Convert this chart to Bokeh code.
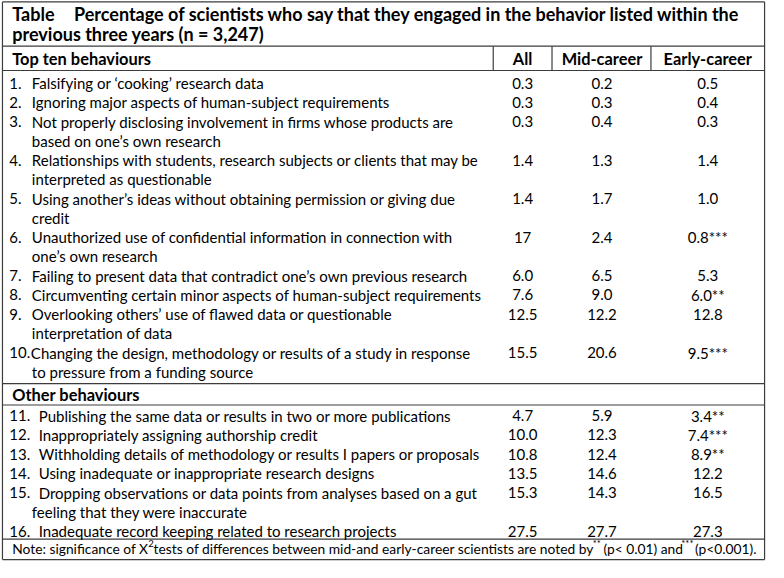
from bokeh.plotting import figure
from bokeh.models import Range1d, ColumnDataSource
from bokeh.embed import file_html
from bokeh.resources import INLINE
from bokeh.core.properties import value

# ---------------- data ----------------
table_label = "Table"
title_line1 = "Percentage of scientists who say that they engaged in the behavior listed within the"
title_line2 = "previous three years (n = 3,247)"
section_names = ["Top ten behaviours", "Other behaviours"]
col_headers = ["All", "Mid-career", "Early-career"]

top_items = [
    ["Falsifying or \u2018cooking\u2019 research data"],
    ["Ignoring major aspects of human-subject requirements"],
    ["Not properly disclosing involvement in firms whose products are", "based on one\u2019s own research"],
    ["Relationships with students, research subjects or clients that may be", "interpreted as questionable"],
    ["Using another\u2019s ideas without obtaining permission or giving due", "credit"],
    ["Unauthorized use of confidential information in connection with", "one\u2019s own research"],
    ["Failing to present data that contradict one\u2019s own previous research"],
    ["Circumventing certain minor aspects of human-subject requirements"],
    ["Overlooking others\u2019 use of flawed data or questionable", "interpretation of data"],
    ["Changing the design, methodology or results of a study in response", "to pressure from a funding source"],
]
top_all = [0.3, 0.3, 0.3, 1.4, 1.4, 17, 6.0, 7.6, 12.5, 15.5]
top_mid = [0.2, 0.3, 0.4, 1.3, 1.7, 2.4, 6.5, 9.0, 12.2, 20.6]
top_early = [0.5, 0.4, 0.3, 1.4, 1.0, 0.8, 5.3, 6.0, 12.8, 9.5]
top_sig = ["", "", "", "", "", "***", "", "**", "", "***"]

other_items = [
    ["Publishing the same data or results in two or more publications"],
    ["Inappropriately assigning authorship credit"],
    ["Withholding details of methodology or results I papers or proposals"],
    ["Using inadequate or inappropriate research designs"],
    ["Dropping observations or data points from analyses based on a gut", "feeling that they were inaccurate"],
    ["Inadequate record keeping related to research projects"],
]
other_all = [4.7, 10.0, 10.8, 13.5, 15.3, 27.5]
other_mid = [5.9, 12.3, 12.4, 14.6, 14.3, 27.7]
other_early = [3.4, 7.4, 8.9, 12.2, 16.5, 27.3]
other_sig = ["**", "***", "**", "", "", ""]

note_parts = ["Note: significance of X", "2",
              " tests of differences between mid-and early-career scientists are noted by",
              "**", "(p< 0.01) and", "***", "(p<0.001)."]

# ---------------- layout ----------------
FONT = value("Lato")
BODY = value("15px")
LINE_H = 19.8
COL_X = [533, 614, 722]
LC = "#3c3c3c"

p = figure(width=768, height=562, x_range=Range1d(0, 784), y_range=Range1d(578, 0),
           output_backend="svg", toolbar_location=None, min_border=0)
p.xaxis.visible = False
p.yaxis.visible = False
p.grid.visible = False
p.outline_line_color = None
p.background_fill_color = "white"


def txt(x, y, t, size=BODY, bold=False, align="left", baseline="middle"):
    src = ColumnDataSource(dict(x=x, y=y, t=t))
    p.text(x="x", y="y", text="t", source=src, text_font=FONT, text_font_size=size,
           text_font_style="bold" if bold else "normal", text_align=align,
           text_baseline=baseline, text_color="black")


# lines
hy = [1.5, 47, 72, 394, 416, 554, 575]
p.segment(x0=[2] * len(hy), y0=hy, x1=[780] * len(hy), y1=hy, line_color=LC, line_width=1.2)
vx = [2, 780, 503, 563, 664]
vy0 = [1.5, 1.5, 47, 47, 47]
vy1 = [575, 575, 72, 72, 72]
p.segment(x0=vx, y0=vy0, x1=vx, y1=vy1, line_color=LC, line_width=1.2)

# title
TITLE = value("18px")
txt([12], [14], [table_label], size=TITLE, bold=True)
txt([75], [14], [title_line1], size=TITLE, bold=True)
txt([12], [34], [title_line2], size=TITLE, bold=True)

# header
HDR = value("16.4px")
txt([12], [60], [section_names[0]], size=HDR, bold=True)
txt(COL_X, [60] * 3, col_headers, size=HDR, bold=True, align="center")
txt([12], [405], [section_names[1]], size=HDR, bold=True)


def section(items, a, m, e, sig, start, start_no, num_x, text_x):
    nx, ny, nt = [], [], []
    lx, ly, lt = [], [], []
    vx_, vy_, vt = [], [], []
    k = 0
    for i, lines in enumerate(items):
        y = start + k * LINE_H
        nx.append(num_x); ny.append(y); nt.append(f"{start_no + i}.")
        for j, line in enumerate(lines):
            lx.append(text_x if j == 0 else 32)
            ly.append(start + (k + j) * LINE_H)
            lt.append(line)
        vx_ += COL_X
        vy_ += [y] * 3
        vt += [str(a[i]), str(m[i]), str(e[i]) + sig[i]]
        k += len(lines)
    txt(nx, ny, nt)
    txt(lx, ly, lt)
    txt(vx_, vy_, vt, align="center")


section(top_items[:9], top_all[:9], top_mid[:9], top_early[:9], top_sig[:9], 85, 1, 9, 32)
# item 10 (two-digit number, text starts closer)
section(top_items[9:], top_all[9:], top_mid[9:], top_early[9:], top_sig[9:],
        85 + 14 * LINE_H, 10, 9, 31)
section(other_items, other_all, other_mid, other_early, other_sig, 427, 11, 9, 39)

# note
NOTE = value("13.8px")
SUP = value("9.5px")
txt([12], [564], [note_parts[0]], size=NOTE)
txt([150.8], [558.5], [note_parts[1]], size=SUP)
txt([156.3], [564], [note_parts[2]], size=NOTE)
txt([604.5], [558.5], [note_parts[3]], size=SUP)
txt([615.5], [564], [note_parts[4]], size=NOTE)
txt([695], [558.5], [note_parts[5]], size=SUP)
txt([709], [564], [note_parts[6]], size=NOTE)

open("out.html", "w").write(file_html(p, INLINE))
